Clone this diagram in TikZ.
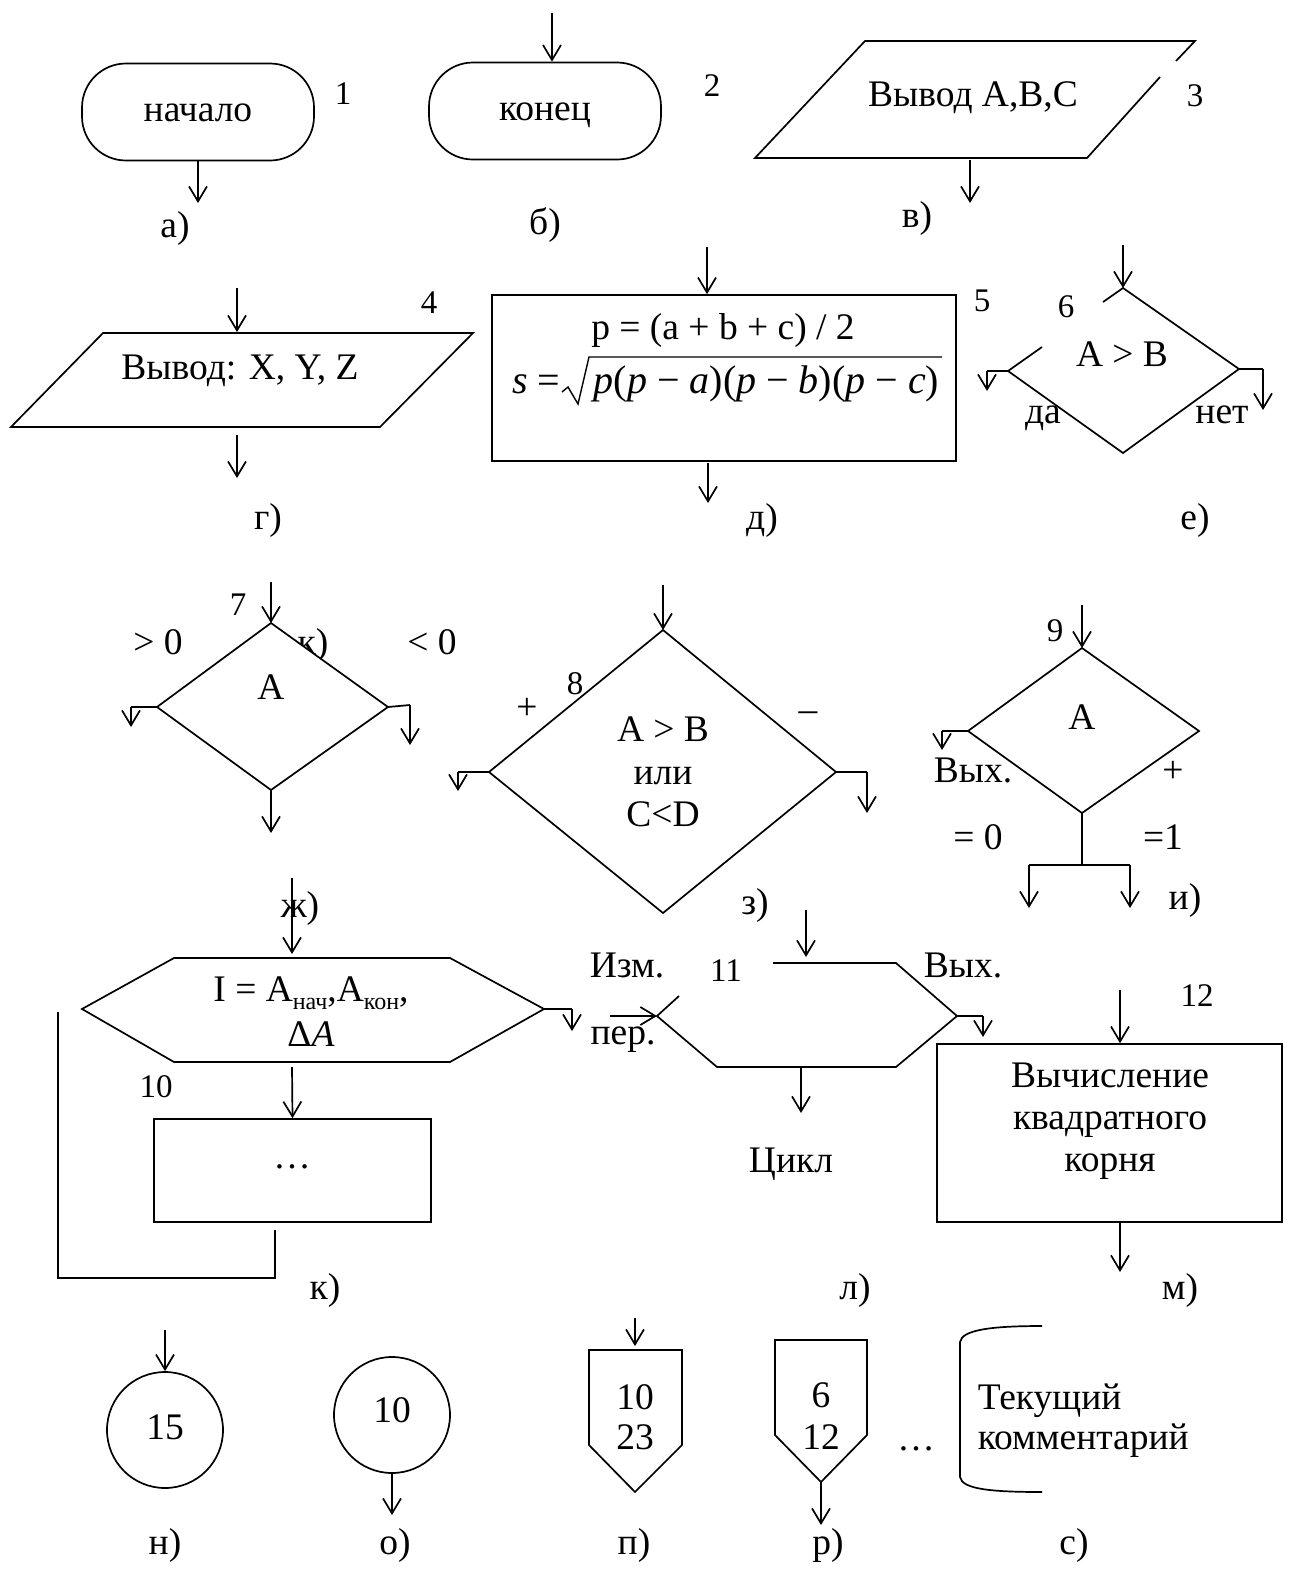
\documentclass[tikz,border=0pt]{standalone}
\usepackage{fontspec}
\setmainfont{Liberation Serif}
\usetikzlibrary{arrows.meta}
\begin{document}
\begin{tikzpicture}[x=1pt,y=-1pt,line width=1.7pt,
  every node/.style={font=\fontsize{37.5}{42}\selectfont, inner sep=0pt, text height=25pt, text depth=6pt},
  num/.style={font=\fontsize{33}{38}\selectfont},
  arr/.style={-{Straight Barb[length=15pt,width=18pt]}},
  term/.style={draw, rounded corners=44pt, minimum width=232pt, minimum height=97pt},
  blk/.style={draw},
  fl/.style={anchor=base},
  frm/.style={font=\fontsize{40}{44}\selectfont}
]
\useasboundingbox (0,0) rectangle (1290,1569);

% ---------- a) ----------
\node[term] (t1) at (198,112) {начало};
\node[num] (n1) at (343,95) {1};
\coordinate (a1) at (198,203);
\draw[arr] (t1.south) -- (a1);
\node (la) at (175,228) {а)};

% ---------- b) ----------
\coordinate (b0) at (552,13);
\node[term] (t2) at (545,111) {конец};
\draw[arr] (b0) -- (b0 |- t2.north);
\node[num] (n2) at (712,87) {2};
\node (lb) at (545,225) {б)};

% ---------- v) ----------
\coordinate (p3a) at (865,41);
\coordinate (p3b) at (1195,41);
\coordinate (p3c) at (1087,158);
\coordinate (p3d) at (755,158);
\coordinate (p3e) at (1160,77);
\coordinate (p3f) at (1176,61);
\draw (p3f) -- (p3b) -- (p3a) -- (p3d) -- (p3c) -- (p3e);
\node (tx3) at (973,97) {Вывод A,B,C};
\node[num] (n3) at (1195,97) {3};
\coordinate (c3o) at (970,160);
\coordinate (c3e) at (970,203);
\draw[arr] (c3o) -- (c3e);
\node (lv) at (917,218) {в)};

% ---------- g) ----------
\coordinate (p4a) at (103,333);
\coordinate (p4b) at (473,333);
\coordinate (p4c) at (380,427);
\coordinate (p4d) at (11,427);
\draw (p4a) -- (p4b) -- (p4c) -- (p4d) -- cycle;
\node (tx4) at (240,370) {Вывод: X, Y, Z};
\coordinate (c4i) at (237,288);
\coordinate (c4t) at (237,332);
\draw[arr] (c4i) -- (c4t);
\node[num] (n4) at (429,304) {4};
\coordinate (c4o) at (237,435);
\coordinate (c4e) at (237,478);
\draw[arr] (c4o) -- (c4e);
\node (lg) at (268,520) {г)};

% ---------- d) ----------
\node[blk, minimum width=464pt, minimum height=166pt] (b5) at (724,378) {};
\coordinate (c5i) at (707,247);
\draw[arr] (c5i) -- (c5i |- b5.north);
\node[fl] (f5a) at (723,339) {p = (a + b + c) / 2};
\node[fl, frm, anchor=base east] (f5s) at (561,393) {\textit{s} =};
\node[fl, frm, anchor=base west] (f5b) at (593,393) {\textit{p}(\textit{p} − \textit{a})(\textit{p} − \textit{b})(\textit{p} − \textit{c})};
\coordinate (r1) at (562,392);
\coordinate (r2) at (568,387);
\coordinate (r3) at (578,404);
\coordinate (r4) at (589,357);
\coordinate (r5) at (942,357);
\draw[line width=1.4pt] (r1) -- (r2) -- (r3) -- (r4) -- (r5);
\coordinate (c5o) at (708,463);
\coordinate (c5e) at (708,503);
\draw[arr] (c5o) -- (c5e);
\node[num] (n5) at (982,302) {5};
\node (ld) at (762,520) {д)};

% ---------- e) ----------
\coordinate (d6t) at (1123,288);
\coordinate (d6r) at (1239,369);
\coordinate (d6b) at (1123,453);
\coordinate (d6l) at (1008,371);
\coordinate (d6g1) at (1042,347);
\coordinate (d6g2) at (1103,302);
\draw (d6g2) -- (d6t) -- (d6r) -- (d6b) -- (d6l) -- (d6g1);
\coordinate (d6in) at (1123,245);
\draw[arr] (d6in) -- (d6t);
\node[num] (n6) at (1066,308) {6};
\node (tx6) at (1122,357) {A > B};
\coordinate (d6lx) at (987,371);
\coordinate (d6ly) at (987,391);
\draw (d6l) -- (d6lx);
\draw[arr] (d6lx) -- (d6ly);
\coordinate (d6rx) at (1263,369);
\coordinate (d6ry) at (1263,410);
\draw (d6r) -- (d6rx);
\draw[arr] (d6rx) -- (d6ry);
\node (da) at (1043,414) {да};
\node (net) at (1222,414) {нет};
\node (le) at (1195,520) {е)};

% ---------- zh) ----------
\node (stray) at (313,645) {к)};
\coordinate (d7t) at (271,623);
\coordinate (d7r) at (388,707);
\coordinate (d7b) at (271,790);
\coordinate (d7l) at (157,707);
\draw[fill=white] (d7t) -- (d7r) -- (d7b) -- (d7l) -- cycle;
\node (tx7) at (271,690) {A};
\node[num] (n7) at (238,606) {7};
\node (gt0) at (158,645) {> 0};
\node (lt0) at (432,645) {< 0};
\coordinate (d7in) at (271,582);
\draw[arr] (d7in) -- (d7t);
\coordinate (d7lx) at (131,707);
\coordinate (d7ly) at (131,727);
\draw (d7l) -- (d7lx);
\draw[arr] (d7lx) -- (d7ly);
\coordinate (d7rx) at (410,705);
\coordinate (d7ry) at (410,745);
\draw (d7r) -- (d7rx);
\draw[arr] (d7rx) -- (d7ry);
\coordinate (d7bo) at (271,833);
\draw[arr] (d7b) -- (d7bo);
\node (lzh) at (300,908) {ж)};

% ---------- z) ----------
\coordinate (d8t) at (663,630);
\coordinate (d8r) at (836,772);
\coordinate (d8b) at (663,913);
\coordinate (d8l) at (489,772);
\draw (d8t) -- (d8r) -- (d8b) -- (d8l) -- cycle;
\coordinate (d8in) at (663,585);
\draw[arr] (d8in) -- (d8t);
\node[num] (n8) at (575,685) {8};
\node (pl8) at (527,710) {+};
\node (mi8) at (808,712) {–};
\node (tx8a) at (663,732) {A > B};
\node (tx8b) at (663,775) {или};
\node (tx8c) at (663,817) {C<D};
\coordinate (d8lx) at (458,772);
\coordinate (d8ly) at (458,791);
\draw (d8l) -- (d8lx);
\draw[arr] (d8lx) -- (d8ly);
\coordinate (d8rx) at (867,772);
\coordinate (d8ry) at (867,813);
\draw (d8r) -- (d8rx);
\draw[arr] (d8rx) -- (d8ry);
\node (lz) at (755,905) {з)};

% ---------- i) ----------
\coordinate (d9t) at (1082,648);
\coordinate (d9r) at (1199,731);
\coordinate (d9b) at (1082,813);
\coordinate (d9l) at (968,731);
\draw (d9t) -- (d9r) -- (d9b) -- (d9l) -- cycle;
\coordinate (d9in) at (1082,605);
\draw[arr] (d9in) -- (d9t);
\node[num] (n9) at (1055,632) {9};
\node (tx9) at (1082,720) {A};
\coordinate (d9lx) at (942,731);
\coordinate (d9ly) at (942,750);
\draw (d9l) -- (d9lx);
\draw[arr] (d9lx) -- (d9ly);
\coordinate (d9j) at (1082,865);
\coordinate (d9jl) at (1029,865);
\coordinate (d9jr) at (1130,865);
\coordinate (d9el) at (1029,908);
\coordinate (d9er) at (1130,908);
\draw (d9b) -- (d9j);
\draw (d9jl) -- (d9jr);
\draw[arr] (d9jl) -- (d9el);
\draw[arr] (d9jr) -- (d9er);
\node (vyh9) at (973,773) {Вых.};
\node (pl9) at (1173,773) {+};
\node (eq0) at (978,840) {= 0};
\node (eq1) at (1163,840) {=1};
\node (li) at (1185,900) {и)};

% ---------- k) ----------
\coordinate (h10a) at (174,958);
\coordinate (h10b) at (450,958);
\coordinate (h10c) at (544,1009);
\coordinate (h10d) at (450,1062);
\coordinate (h10e) at (174,1062);
\coordinate (h10f) at (82,1009);
\draw (h10a) -- (h10b) -- (h10c) -- (h10d) -- (h10e) -- (h10f) -- cycle;
\coordinate (h10in) at (292,878);
\coordinate (h10it) at (292,954);
\draw[arr] (h10in) -- (h10it);
\node (tx10a) at (311,992) {I = A\raisebox{-0.22em}{\fontsize{24}{28}\selectfont нач},A\raisebox{-0.22em}{\fontsize{24}{28}\selectfont кон},};
\node (tx10b) at (311,1037) {Δ\textit{A}};
\coordinate (h10rx) at (572,1009);
\coordinate (h10ry) at (572,1031);
\draw (h10c) -- (h10rx);
\draw[arr] (h10rx) -- (h10ry);
\node[num] (n10) at (156,1088) {10};
\node[blk, minimum width=277pt, minimum height=103pt] (b10) at (292.5,1170.5) {};
\coordinate (h10o) at (292,1067);
\draw[arr] (h10o) -- (b10.north);
\node[fl] (dots10) at (292,1168) {…};
\coordinate (lp1) at (275,1230);
\coordinate (lp2) at (275,1278);
\coordinate (lp3) at (58,1278);
\coordinate (lp4) at (58,1012);
\draw (lp1) -- (lp2) -- (lp3) -- (lp4);
\node (lk) at (325,1290) {к)};

% ---------- l) ----------
\coordinate (h11a) at (773,963);
\coordinate (h11b) at (896,963);
\coordinate (h11c) at (957,1016);
\coordinate (h11d) at (896,1067);
\coordinate (h11e) at (717,1067);
\coordinate (h11f) at (657,1016);
\coordinate (h11g) at (679,996);
\draw (h11a) -- (h11b) -- (h11c) -- (h11d) -- (h11e) -- (h11f) -- (h11g);
\coordinate (h11in) at (806,910);
\coordinate (h11it) at (806,957);
\draw[arr] (h11in) -- (h11it);
\node (izm) at (627,968) {Изм.};
\node (per) at (623,1035) {пер.};
\coordinate (h11li) at (610,1016);
\draw[arr] (h11li) -- (h11f);
\node[num] (n11) at (726,972) {11};
\node (vyh11) at (963,968) {Вых.};
\coordinate (h11rx) at (983,1016);
\coordinate (h11ry) at (983,1037);
\draw (h11c) -- (h11rx);
\draw[arr] (h11rx) -- (h11ry);
\coordinate (h11bo) at (801,1067);
\coordinate (h11be) at (801,1113);
\draw[arr] (h11bo) -- (h11be);
\node (cikl) at (791,1163) {Цикл};
\node (ll) at (855,1290) {л)};

% ---------- m) ----------
\node[blk, minimum width=345pt, minimum height=178pt] (b12) at (1109.5,1133) {};
\coordinate (b12in) at (1120,990);
\draw[arr] (b12in) -- (b12in |- b12.north);
\node[num] (n12) at (1197,997) {12};
\node (tx12a) at (1110,1078) {Вычисление};
\node (tx12b) at (1110,1120) {квадратного};
\node (tx12c) at (1110,1162) {корня};
\coordinate (b12o) at (1120,1272);
\draw[arr] (b12o |- b12.south) -- (b12o);
\node (lm) at (1180,1290) {м)};

% ---------- n), o) ----------
\node[draw, circle, minimum size=116pt] (c15) at (165,1430) {15};
\coordinate (c15in) at (165,1330);
\draw[arr] (c15in) -- (c15.north);
\node (ln) at (165,1545) {н)};
\node[draw, circle, minimum size=116pt] (c10) at (392,1415) {};
\node (c10t) at (392,1413) {10};
\coordinate (c10o) at (392,1515);
\draw[arr] (c10.south) -- (c10o);
\node (lo) at (395,1545) {о)};

% ---------- p), r) ----------
\coordinate (pa1) at (589,1350);
\coordinate (pa2) at (682,1350);
\coordinate (pa3) at (682,1445);
\coordinate (pa4) at (635,1492);
\coordinate (pa5) at (589,1445);
\draw (pa1) -- (pa2) -- (pa3) -- (pa4) -- (pa5) -- cycle;
\coordinate (pain) at (635,1318);
\coordinate (pait) at (635,1346);
\draw[arr] (pain) -- (pait);
\node (pat1) at (635,1400) {10};
\node (pat2) at (635,1440) {23};
\node (lp) at (634,1545) {п)};

\coordinate (pb1) at (775,1340);
\coordinate (pb2) at (867,1340);
\coordinate (pb3) at (867,1435);
\coordinate (pb4) at (821,1482);
\coordinate (pb5) at (775,1435);
\draw (pb1) -- (pb2) -- (pb3) -- (pb4) -- (pb5) -- cycle;
\node (pbt1) at (821,1398) {6};
\node (pbt2) at (821,1440) {12};
\coordinate (pbo) at (821,1525);
\draw[arr] (pb4) -- (pbo);
\node (lr) at (828,1545) {р)};

% ---------- s) ----------
\node[fl] (dotsc) at (916,1450) {…};
\coordinate (cm1) at (1042,1326);
\coordinate (cm2) at (960,1342);
\coordinate (cm3) at (960,1477);
\coordinate (cm4) at (1042,1492);
\draw (cm1) .. controls (990,1326) and (962,1330) .. (cm2) -- (cm3) .. controls (962,1489) and (990,1492) .. (cm4);
\node[anchor=west] (cmt1) at (977,1400) {Текущий};
\node[anchor=west] (cmt2) at (977,1440) {комментарий};
\node (ls) at (1074,1545) {с)};
\end{tikzpicture}
\end{document}
